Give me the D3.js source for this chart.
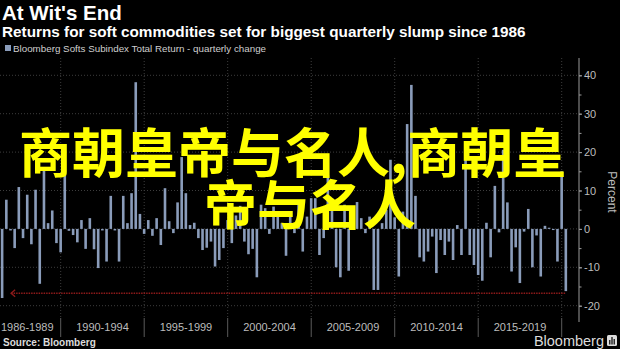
<!DOCTYPE html>
<html>
<head>
<meta charset="utf-8">
<script src="https://cdn.jsdelivr.net/npm/d3@7"></script>
<style>
  html, body { margin: 0; padding: 0; background: #000; }
  svg { display: block; }
</style>
</head>
<body>
<svg id="chart" width="620" height="349"></svg>
<script>
// ---- Chart data ----
const titleText = "At Wit's End";
const subtitleText = "Returns for soft commodities set for biggest quarterly slump since 1986";
const seriesName = "Bloomberg Softs Subindex Total Return - quarterly change";
const sourceText = "Source: Bloomberg";
const brandText = "Bloomberg";
const overlayLines = ["商朝皇帝与名人,商朝皇", "帝与名人"];

// First quarter in the series (year, quarter number); one bar per quarter after it
const firstYear = 1986;
const firstQuarter = 2;

// Quarterly change, percent (1986 Q2 .. 2020 Q1)
const quarterlyChange = [
  -18.0, 7.6, -0.4,                                   // 1986
  -5.0, 10.9, -2.4, 8.9,                              // 1987
  -4.0, 10.2, -14.3, 16.0,                            // 1988
  1.5, 4.8, -3.7, -6.1,                               // 1989
  14.0, -0.5, -1.6, -3.5,                             // 1990
  2.3, -5.2, 2.8, -5.3,                               // 1991
  -10.2, -0.4, -8.5, 8.6,                             // 1992
  -0.4, -8.5, 8.6, 1.5,                               // 1993
  9.3, 38.2, 3.9, -1.3,                               // 1994
  2.3, -1.8, 2.8, -4.2,                               // 1995
  10.6, 2.0, -1.1, 6.9,                               // 1996
  18.7, 9.3, 1.0, 1.6,                                // 1997
  -2.4, -5.5, -4.9, -3.3,                             // 1998
  -9.8, -8.1, -5.0, 2.3,                              // 1999
  -3.7, 3.5, 6.0, -3.3,                               // 2000
  -6.6, -5.2, -12.6, 6.3,                             // 2001
  5.4, -1.3, 5.8, 4.1,                                // 2002
  1.5, -7.0, 4.5, -1.1,                               // 2003
  7.5, -5.9, 3.2, 8.0,                                // 2004
  8.0, -6.8, -2.4, 14.0,                              // 2005
  8.0, -10.0, -12.6, 6.3,                             // 2006
  -10.9, 4.5, 7.0, 2.8,                               // 2007
  -1.1, 3.2, -15.9, -15.9,                            // 2008
  1.5, 5.0, 18.0, 3.0,                                // 2009
  -12.4, 4.5, 27.3, 37.5,                             // 2010
  8.6, -7.4, -8.5, -5.9,                              // 2011
  -2.0, -11.5, -2.9, -6.8,                            // 2012
  -3.3, -8.1, 1.0, -6.8,                              // 2013
  21.3, -6.8, -9.4, -12.0,                            // 2014
  -13.5, 1.6, -7.4, 11.2,                             // 2015
  -0.9, 20.6, 6.9, -11.1,                             // 2016
  -4.8, -14.1, -0.7, 5.2,                             // 2017
  -10.0, -1.7, -12.4, 0.8,                            // 2018
  0.3, -0.3, -8.5, 15.0,                              // 2019
  -16.2                                               // 2020
];

// Reference level for the dotted arrow back to the 1986 slump
const slumpLevel = -16.75;

// Five-year period breaks and their labels
const periodBreaks = [1990, 1995, 2000, 2005, 2010, 2015, 2020];
const periodStarts = [1986, 1990, 1995, 2000, 2005, 2010, 2015];
const periodLabels = ["1986-1989", "1990-1994", "1995-1999", "2000-2004", "2005-2009", "2010-2014", "2015-2019"];

const yTicks = [-20, -10, 0, 10, 20, 30, 40];
const yMinorTicks = [-20, -15, -10, -5, 0, 5, 10, 15, 20, 25, 30, 35, 40];
const yTitle = "Percent";

// ---- Layout ----
const W = 620, H = 349;
const plot = { left: 0, right: 579, top: 58, bottom: 318 };
const barColor = "#8a9cba";
const gridColor = "#3d3d3d";
const textColor = "#bdbdbd";

const svg = d3.select("#chart");
svg.append("rect").attr("width", W).attr("height", H).attr("fill", "#000");

// Quarter-end dates for each bar
const quarterEnd = (year, q) => new Date(Date.UTC(year, q * 3, 0));
const bars = quarterlyChange.map((v, i) => {
  const n = (firstQuarter - 1) + i;
  const year = firstYear + Math.floor(n / 4);
  const q = (n % 4) + 1;
  return { date: quarterEnd(year, q), value: v };
});

const x = d3.scaleUtc()
  .domain([new Date(Date.UTC(1990, 0, 1)), new Date(Date.UTC(2020, 0, 1))])
  .range([60.7, 561.7]);

const y = d3.scaleLinear()
  .domain([-20, 40])
  .range([305.7, 75.3]);

const yearDate = yr => new Date(Date.UTC(yr, 0, 1));

// ---- Header ----
svg.append("text")
  .attr("x", 2).attr("y", 20)
  .attr("font-family", "Liberation Sans, Arial, sans-serif")
  .attr("font-weight", "bold").attr("font-size", 20.5)
  .attr("fill", "#fff")
  .text(titleText);

svg.append("text")
  .attr("x", 2).attr("y", 37)
  .attr("font-family", "Liberation Sans, Arial, sans-serif")
  .attr("font-weight", "bold").attr("font-size", 15.3)
  .attr("fill", "#fff")
  .text(subtitleText);

svg.append("rect")
  .attr("x", 5).attr("y", 45).attr("width", 6).attr("height", 6)
  .attr("fill", barColor);
svg.append("text")
  .attr("x", 13).attr("y", 51.5)
  .attr("font-family", "Liberation Sans, Arial, sans-serif")
  .attr("font-size", 9.8)
  .attr("fill", "#cfcfcf")
  .text(seriesName);

// ---- Grid ----
const grid = svg.append("g");
grid.selectAll("line.h")
  .data(yTicks)
  .join("line")
  .attr("x1", plot.left).attr("x2", plot.right)
  .attr("y1", d => y(d)).attr("y2", d => y(d))
  .attr("stroke", gridColor)
  .attr("stroke-width", 1)
  .attr("stroke-dasharray", "1,2");

grid.selectAll("line.v")
  .data(periodBreaks)
  .join("line")
  .attr("x1", d => x(yearDate(d))).attr("x2", d => x(yearDate(d)))
  .attr("y1", plot.top).attr("y2", plot.bottom)
  .attr("stroke", gridColor)
  .attr("stroke-width", 1)
  .attr("stroke-dasharray", "1,2");

// ---- Bars ----
const barW = 2.6;
svg.append("g")
  .selectAll("rect")
  .data(bars)
  .join("rect")
  .attr("x", d => x(d.date) - barW / 2)
  .attr("width", barW)
  .attr("y", d => y(Math.max(0, d.value)))
  .attr("height", d => Math.abs(y(d.value) - y(0)))
  .attr("fill", barColor);

// ---- Slump reference arrow ----
const lastBar = bars[bars.length - 1];
const firstBar = bars[0];
const arrowY = y(slumpLevel);
const arrowX0 = x(firstBar.date) + 9;
svg.append("line")
  .attr("x1", arrowX0).attr("x2", x(lastBar.date))
  .attr("y1", arrowY).attr("y2", arrowY)
  .attr("stroke", "#8e1a1a")
  .attr("stroke-width", 1.4)
  .attr("stroke-dasharray", "1.5,1");
svg.append("path")
  .attr("d", `M${arrowX0 + 4},${arrowY - 3.5} L${arrowX0},${arrowY} L${arrowX0 + 4},${arrowY + 3.5}`)
  .attr("fill", "none")
  .attr("stroke", "#8e1a1a")
  .attr("stroke-width", 1.4);

// ---- Right axis ----
const axisG = svg.append("g").attr("transform", `translate(${plot.right},0)`);
axisG.append("line")
  .attr("x1", 0).attr("x2", 0)
  .attr("y1", plot.top).attr("y2", plot.bottom + 4)
  .attr("stroke", "#9a9a9a").attr("stroke-width", 1);

const minorAxis = d3.axisRight(y).tickValues(yMinorTicks).tickSize(2.5).tickFormat("");
axisG.append("g").call(minorAxis)
  .call(g => g.select(".domain").remove())
  .call(g => g.selectAll("line").attr("stroke", "#9a9a9a"));

const majorAxis = d3.axisRight(y).tickValues(yTicks).tickSize(3).tickPadding(2)
  .tickFormat(d => String(d));
axisG.append("g").call(majorAxis)
  .call(g => g.select(".domain").remove())
  .call(g => g.selectAll("line").attr("stroke", "#9a9a9a"))
  .call(g => g.selectAll("text")
    .attr("fill", textColor)
    .attr("font-family", "Liberation Sans, Arial, sans-serif")
    .attr("font-size", 11));

svg.append("text")
  .attr("transform", `translate(608,192) rotate(90)`)
  .attr("text-anchor", "middle")
  .attr("font-family", "Liberation Sans, Arial, sans-serif")
  .attr("font-size", 12)
  .attr("fill", textColor)
  .text(yTitle);

// ---- Bottom period axis ----
svg.append("g")
  .selectAll("line")
  .data(periodBreaks)
  .join("line")
  .attr("x1", d => x(yearDate(d))).attr("x2", d => x(yearDate(d)))
  .attr("y1", plot.bottom).attr("y2", plot.bottom + 19)
  .attr("stroke", "#5a5a5a").attr("stroke-width", 1);

svg.append("g")
  .selectAll("text")
  .data(periodLabels)
  .join("text")
  .attr("x", (d, i) => (x(yearDate(periodStarts[i])) + x(yearDate(periodBreaks[i]))) / 2)
  .attr("y", 331)
  .attr("text-anchor", "middle")
  .attr("font-family", "Liberation Sans, Arial, sans-serif")
  .attr("font-size", 11)
  .attr("fill", textColor)
  .text(d => d);

// ---- Footer ----
svg.append("text")
  .attr("x", 3).attr("y", 346)
  .attr("font-family", "Liberation Sans, Arial, sans-serif")
  .attr("font-weight", "bold").attr("font-size", 10)
  .attr("fill", "#dcdcdc")
  .text(sourceText);

svg.append("text")
  .attr("x", 604).attr("y", 346)
  .attr("text-anchor", "end")
  .attr("font-family", "Liberation Sans, Arial, sans-serif")
  .attr("font-size", 14.5)
  .attr("fill", "#dcdcdc")
  .text(brandText);

const logo = svg.append("g").attr("transform", "translate(607,335)");
logo.append("rect").attr("width", 10).attr("height", 11).attr("rx", 1.5).attr("fill", "#dcdcdc");
[[2.2, 5, 4.5], [4.4, 2, 7.5], [6.6, 4, 5.5]].forEach(([bx, by, bh]) =>
  logo.append("rect").attr("x", bx).attr("y", by).attr("width", 1.2).attr("height", bh).attr("fill", "#000"));

// ---- Overlay caption (one text, two lines) ----
const overlay = svg.append("text")
  .attr("font-family", "Noto Sans CJK SC, sans-serif")
  .attr("font-weight", "bold")
  .attr("font-size", 53)
  .attr("fill", "#ffff00");
overlay.append("tspan").attr("x", 19).attr("y", 173).text(overlayLines[0]);
overlay.append("tspan").attr("x", 204).attr("y", 225).text(overlayLines[1]);
</script>
</body>
</html>
